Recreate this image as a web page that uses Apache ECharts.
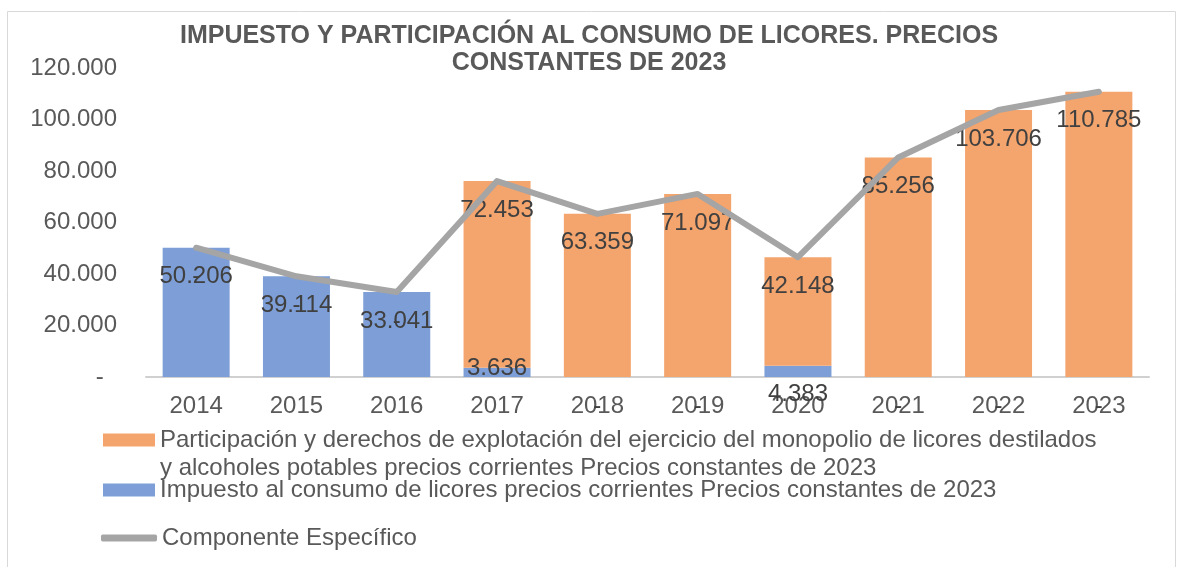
<!DOCTYPE html>
<html>
<head>
<meta charset="utf-8">
<script src="https://cdn.jsdelivr.net/npm/echarts@6/dist/echarts.min.js"></script>
<style>
  html, body { margin: 0; padding: 0; background: #fff; }
  #main { width: 1178px; height: 567px; }
</style>
</head>
<body>
<div id="main"></div>
<script>
// datos
var years = ['2014', '2015', '2016', '2017', '2018', '2019', '2020', '2021', '2022', '2023'];
var impuesto = [50206, 39114, 33041, 3636, 0, 0, 4383, 0, 0, 0];
var participacion = [0, 0, 0, 72453, 63359, 71097, 42148, 85256, 103706, 110785];
var componente = [50206, 39114, 33041, 76089, 63359, 71097, 46531, 85256, 103706, 110785];
var yTicks = [0, 20000, 40000, 60000, 80000, 100000, 120000];

var nameParticipacion = 'Participación y derechos de explotación del ejercicio del monopolio de licores destilados y alcoholes potables precios corrientes Precios constantes de 2023';
var nameImpuesto = 'Impuesto al consumo de licores precios corrientes Precios constantes de 2023';
var nameComponente = 'Componente Específico';

var FONT = 'Liberation Sans, Arial, sans-serif';

function fmt(v) {
    if (v === 0) return '-';
    return String(v).replace(/\B(?=(\d{3})+(?!\d))/g, '.');
}

var myChart = echarts.init(document.getElementById('main'));

var labelStyle = {
    show: true,
    position: 'insideTop',
    distance: 17,
    color: '#404040',
    fontSize: 24,
    fontFamily: FONT,
    formatter: function (p) { return fmt(p.value); }
};

var impuestoData = impuesto.map(function (v, i) {
    if (years[i] === '2017') {
        return { value: v, label: { position: 'top', distance: -13 } };
    }
    return v;
});

option = {
    animation: false,
    graphic: [{
        type: 'rect',
        shape: { x: 7.5, y: 11.5, width: 1168, height: 600 },
        style: { fill: 'none', stroke: '#d9d9d9', lineWidth: 1 },
        silent: true
    }],
    title: {
        text: 'IMPUESTO Y PARTICIPACIÓN AL CONSUMO DE LICORES. PRECIOS\nCONSTANTES DE 2023',
        left: 'center',
        top: 18,
        textStyle: {
            fontFamily: FONT,
            fontSize: 25,
            fontWeight: 'bold',
            color: '#595959',
            lineHeight: 27
        }
    },
    legend: [{
        data: [nameParticipacion],
        orient: 'vertical',
        left: 103,
        top: 398,
        padding: 0,
        itemWidth: 52,
        itemHeight: 13,
        icon: 'rect',
        formatter: function (name) {
            return '\nParticipación y derechos de explotación del ejercicio del monopolio de licores destilados\ny alcoholes potables precios corrientes Precios constantes de 2023';
        },
        textStyle: { fontFamily: FONT, fontSize: 24, color: '#595959', lineHeight: 28 }
    }, {
        data: [nameImpuesto],
        orient: 'vertical',
        left: 103,
        top: 477,
        padding: 0,
        itemWidth: 52,
        itemHeight: 13,
        icon: 'rect',
        textStyle: { fontFamily: FONT, fontSize: 24, color: '#595959', lineHeight: 26 }
    }, {
        data: [nameComponente],
        orient: 'vertical',
        left: 101,
        top: 525,
        padding: 0,
        itemWidth: 56,
        itemHeight: 7,
        icon: 'roundRect',
        itemStyle: { color: '#a5a5a5' },
        textStyle: { fontFamily: FONT, fontSize: 24, color: '#595959', lineHeight: 26 }
    }],
    grid: {
        left: 146,
        right: 29,
        top: 68,
        bottom: 190
    },
    xAxis: [{
        type: 'category',
        data: years,
        axisTick: { show: false },
        axisLine: { lineStyle: { color: '#d0d0d0', width: 2 } },
        axisLabel: { fontFamily: FONT, fontSize: 24, color: '#595959', margin: 17 }
    }],
    yAxis: [{
        type: 'value',
        min: yTicks[0],
        max: yTicks[yTicks.length - 1],
        interval: yTicks[1] - yTicks[0],
        splitLine: { show: false },
        axisLine: { show: false },
        axisTick: { show: false },
        axisLabel: {
            fontFamily: FONT, fontSize: 24, color: '#595959', margin: 29,
            formatter: function (v) { return v === 0 ? '-  ' : fmt(v); }
        }
    }],
    series: [{
        name: nameImpuesto,
        type: 'bar',
        stack: 'total',
        barWidth: 67,
        itemStyle: { color: '#7d9ed6' },
        label: labelStyle,
        data: impuestoData
    }, {
        name: nameParticipacion,
        type: 'bar',
        stack: 'total',
        barWidth: 67,
        itemStyle: { color: '#f4a46d' },
        label: labelStyle,
        data: participacion
    }, {
        name: nameComponente,
        type: 'line',
        symbol: 'none',
        z: 3,
        lineStyle: { color: '#a5a5a5', width: 6, cap: 'round', join: 'round' },
        itemStyle: { color: '#a5a5a5' },
        data: componente
    }]
};

myChart.setOption(option);
</script>
</body>
</html>
